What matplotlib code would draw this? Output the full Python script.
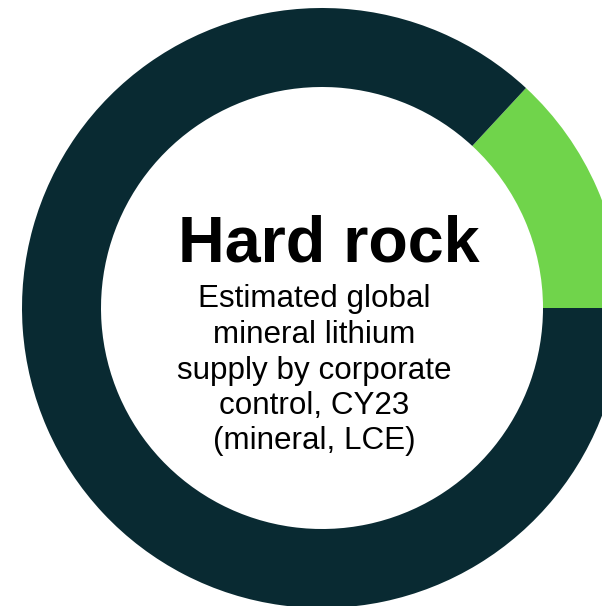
import matplotlib
matplotlib.use("Agg")
import matplotlib.pyplot as plt

# Share of estimated hard-rock lithium supply by corporate control
segments = ["Other", "Highlighted"]
shares = [86.9, 13.1]
colors = ["#092A32", "#70D44B"]

title = "Hard rock"
subtitle_lines = [
    "Estimated global",
    "mineral lithium",
    "supply by corporate",
    "control, CY23",
    "(mineral, LCE)",
]

W, H = 602, 606
fig = plt.figure(figsize=(W / 100, H / 100), dpi=100)
ax = fig.add_axes([0, 0, 1, 1])

cx, cy = 322, H - 308
R, ring = 300, 79
start = 360 * shares[1] / sum(shares)

# Green wedge runs clockwise from `start` down to 3 o'clock, dark fills the rest
ax.pie(
    shares[::-1],
    colors=colors[::-1],
    startangle=start,
    counterclock=False,
    center=(cx, cy),
    radius=R,
    wedgeprops=dict(width=ring, linewidth=0),
)

ax.set_xlim(0, W)
ax.set_ylim(0, H)
ax.set_aspect("equal")
ax.axis("off")

ax.text(329, H - 261.7, title, ha="center", va="baseline",
        fontsize=46.5, fontweight="bold", family="Liberation Sans", color="black")

baselines = [307.5, 343.0, 378.5, 413.7, 448.8]
for line, yb in zip(subtitle_lines, baselines):
    ax.text(314, H - yb, line, ha="center", va="baseline",
            fontsize=22.6, family="Liberation Sans", color="black")

fig.savefig("out.png", dpi=100)
